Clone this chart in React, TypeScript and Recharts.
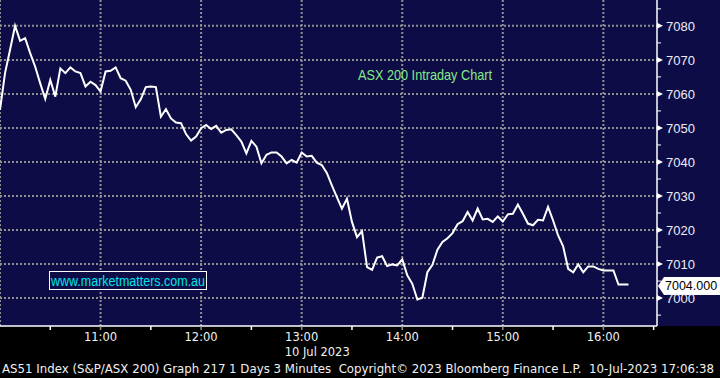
import { LineChart, Line, XAxis, YAxis, CartesianGrid, ReferenceLine } from "recharts";

const NAVY = "#0e0c46";
const GRID = "#8f8f8f";

// AS51 index, 3 minute bars from 10:00
const asx200 = [
  7055.3, 7066.1, 7073.0, 7080.0, 7075.6, 7076.4, 7072.0, 7068.0, 7063.1, 7058.5,
  7064.1, 7059.2, 7067.5, 7066.1, 7067.8, 7066.6, 7066.1, 7062.2, 7063.6, 7062.6,
  7060.7, 7066.6, 7066.8, 7067.8, 7064.6, 7063.9, 7061.2, 7056.1, 7058.4, 7062.0,
  7062.2, 7062.0, 7053.3, 7055.5, 7052.8, 7051.6, 7051.4, 7048.2, 7046.3, 7047.5,
  7049.9, 7050.9, 7049.7, 7050.6, 7048.6, 7049.4, 7049.6, 7047.9, 7046.0, 7042.5,
  7046.2, 7044.5, 7039.6, 7042.1, 7042.8, 7042.8, 7041.6, 7039.6, 7040.6, 7039.8,
  7042.8, 7041.6, 7041.8, 7039.8, 7039.1, 7036.8, 7033.1, 7029.7, 7026.3, 7029.2,
  7022.4, 7017.9, 7019.7, 7009.1, 7008.3, 7011.9, 7012.3, 7009.4, 7009.9, 7009.6,
  7011.4, 7006.7, 7004.2, 6999.6, 7000.1, 7007.6, 7009.8, 7014.2, 7016.5, 7017.6,
  7019.1, 7021.7, 7022.6, 7025.3, 7022.8, 7026.3, 7023.1, 7023.3, 7022.4, 7024.0,
  7022.5, 7024.6, 7024.8, 7027.5, 7024.8, 7021.9, 7021.4, 7023.0, 7022.8, 7026.8,
  7022.8, 7018.4, 7015.2, 7008.6, 7007.6, 7009.9, 7007.6, 7009.3, 7009.3, 7008.6,
  7008.1, 7008.1, 7008.1, 7004.0, 7004.0, 7004.0,
];
const BAR_MINUTES = 3;
const lastValue = 7004;

// minutes after 10:00
const timeTicks = [30, 60, 90, 120, 150, 180, 210, 240, 270, 300, 330, 360, 390];
const hourTicks = [0, 60, 120, 180, 240, 300, 360];
const hourLabels: Record<number, string> = {
  60: "11:00",
  120: "12:00",
  180: "13:00",
  240: "14:00",
  300: "15:00",
  360: "16:00",
};
const dateLabel = "10 Jul 2023";

const priceTicks = [6995, 7000, 7005, 7010, 7015, 7020, 7025, 7030, 7035, 7040, 7045, 7050, 7055, 7060, 7065, 7070, 7075, 7080, 7085];
const priceGrid = [7000, 7010, 7020, 7030, 7040, 7050, 7060, 7070, 7080];

const title = "ASX 200 Intraday Chart";
const watermark = "www.marketmatters.com.au";
const footer =
  "AS51 Index (S&P/ASX 200) Graph 217 1 Days 3 Minutes  Copyright\u00a9 2023 Bloomberg Finance L.P.  10-Jul-2023 17:06:38";

const data = asx200.map((v, i) => ({ t: i * BAR_MINUTES, px: v }));

function TimeTick({ x, y, payload }: any) {
  const label = hourLabels[payload.value];
  return (
    <g>
      <line x1={x} x2={x} y1={y} y2={y + 4} stroke={label ? GRID : "#ffffff"} strokeWidth={1.5} />
      {label && (
        <text x={x} y={y + 15} textAnchor="middle" fill="#f2f2f2" fontSize={11.5} fontFamily="DejaVu Sans">
          {label}
        </text>
      )}
      {payload.value === 180 && (
        <text x={x - 17} y={y + 30} fill="#f2f2f2" fontSize={11.5} fontFamily="DejaVu Sans">
          {dateLabel}
        </text>
      )}
    </g>
  );
}

function PriceTick({ x, y, payload }: any) {
  const v = Number(payload.value);
  if (v % 10 !== 0) {
    return <line x1={x} x2={x + 4} y1={y} y2={y} stroke="#ffffff" strokeWidth={1} />;
  }
  return (
    <g>
      <polygon points={`${x},${y - 3} ${x},${y + 3} ${x + 6},${y}`} fill="#ffffff" />
      <text x={x + 9} y={y + 5} fill="#ececf6" fontSize={13} fontFamily="Liberation Sans">
        {v}
      </text>
    </g>
  );
}

function LastTag(props: any) {
  const vb = props.viewBox || {};
  const left = vb.x + vb.width;
  const cy = vb.y + 1.5;
  return (
    <g>
      <polygon
        points={`${left + 1},${cy} ${left + 7},${cy - 9} ${720},${cy - 9} ${720},${cy + 9} ${left + 7},${cy + 9}`}
        fill="#ffffff"
      />
      <text x={left + 8} y={cy + 4.5} fill="#000000" fontSize={12.5} fontFamily="Liberation Sans">
        {lastValue.toFixed(3)}
      </text>
    </g>
  );
}

export default function App() {
  return (
    <div style={{ position: "fixed", left: 0, top: 0, width: 720, height: 378, background: "#000000", overflow: "hidden" }}>
      <div style={{ position: "absolute", left: 0, top: 0, width: 720, height: 326, background: NAVY }} />
      <div style={{ position: "absolute", left: 0, top: 0 }}>
        <LineChart width={720} height={362} data={data} margin={{ top: 0, right: 0, bottom: 0, left: 0 }}>
          <CartesianGrid
            stroke={GRID}
            strokeWidth={2}
            strokeDasharray="2 2"
            verticalValues={hourTicks}
            horizontalValues={priceGrid}
          />
          <XAxis
            dataKey="t"
            type="number"
            domain={[0, 392]}
            ticks={timeTicks}
            interval={0}
            height={36}
            tickSize={0}
            tickMargin={0}
            tick={<TimeTick />}
            axisLine={{ stroke: "#ffffff", strokeWidth: 1.5 }}
            allowDataOverflow
          />
          <YAxis
            orientation="right"
            type="number"
            domain={[6991.8, 7087.6]}
            ticks={priceTicks}
            interval={0}
            width={63}
            tickSize={0}
            tickMargin={0}
            tick={<PriceTick />}
            axisLine={{ stroke: "#ffffff", strokeWidth: 1.5 }}
            allowDataOverflow
          />
          <ReferenceLine y={lastValue} stroke="none" label={(p: any) => <LastTag {...p} />} />
          <Line
            type="linear"
            dataKey="px"
            stroke="#ffffff"
            strokeWidth={2}
            dot={false}
            activeDot={false}
            isAnimationActive={false}
          />
        </LineChart>
      </div>
      <svg width={720} height={378} style={{ position: "absolute", left: 0, top: 0, pointerEvents: "none" }}>
        <text
          x={358}
          y={79.5}
          fill="#86ea86"
          fontSize={15}
          fontFamily="Liberation Sans"
          textLength={134}
          lengthAdjust="spacingAndGlyphs"
        >
          {title}
        </text>
        <rect x={49.5} y={271.5} width={157} height={18} fill={NAVY} stroke="#ffffff" strokeWidth={1} />
        <text
          x={51}
          y={285.5}
          fill="#00e4ec"
          fontSize={14}
          fontFamily="Liberation Sans"
          textLength={154}
          lengthAdjust="spacingAndGlyphs"
        >
          {watermark}
        </text>
        <text
          x={2}
          y={373}
          fill="#f0f0f0"
          fontSize={12}
          fontFamily="DejaVu Sans"
          textLength={712}
          lengthAdjust="spacingAndGlyphs"
          style={{ whiteSpace: "pre" }}
        >
          {footer}
        </text>
      </svg>
    </div>
  );
}
